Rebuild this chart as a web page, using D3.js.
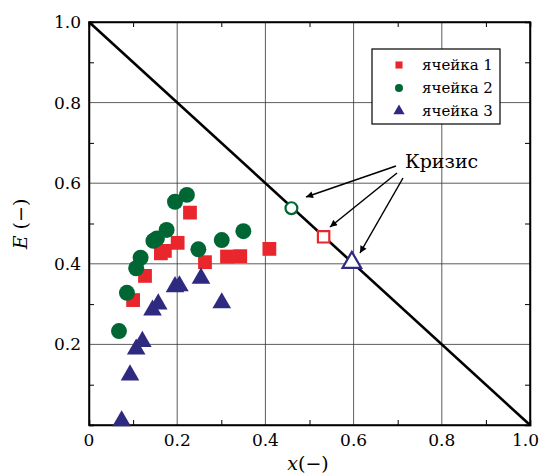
<!DOCTYPE html>
<html lang="ru">
<head>
<meta charset="UTF-8">
<title>E(x)</title>
<script src="https://cdn.jsdelivr.net/npm/d3@7/dist/d3.min.js"></script>
<style>
body{margin:0;background:#fff;}
</style>
</head>
<body>
<script>
// данные
var cell1 = [[0.10,0.31],[0.127,0.370],[0.163,0.426],[0.172,0.432],[0.201,0.452],[0.229,0.527],
             [0.263,0.404],[0.313,0.418],[0.343,0.419],[0.409,0.437]];
var cell2 = [[0.068,0.233],[0.086,0.328],[0.107,0.389],[0.117,0.415],[0.146,0.457],[0.154,0.463],
             [0.176,0.484],[0.195,0.554],[0.222,0.571],[0.248,0.436],[0.301,0.459],[0.350,0.481]];
var cell3 = [[0.074,0.010],[0.093,0.124],[0.107,0.188],[0.121,0.207],[0.144,0.285],[0.157,0.300],
             [0.195,0.343],[0.205,0.345],[0.254,0.364],[0.301,0.303]];
var crisis = [[0.532,0.467],[0.459,0.538],[0.596,0.403]]; // ячейка 1, 2, 3
var seriesNames = ["ячейка 1","ячейка 2","ячейка 3"];
var ticks = [0,0.2,0.4,0.6,0.8,1.0];
var tickLabels = ["0","0.2","0.4","0.6","0.8","1.0"];
var colors = ["#e8262c","#006633","#2e2a7f"];

var width = 540, height = 474;
var serif = "DejaVu Serif, serif";
var svg = d3.select("body").append("svg").attr("width",width).attr("height",height)
  .style("font-family",serif);

var x = d3.scaleLinear().domain([0,1]).range([89,530]);
var y = d3.scaleLinear().domain([0,1]).range([425,22]);

// сетка
var g = svg.append("g");
g.selectAll(".gx").data(ticks.slice(1,-1)).enter().append("line")
  .attr("x1",d=>x(d)).attr("x2",d=>x(d)).attr("y1",y(0)).attr("y2",y(1))
  .attr("stroke","#333").attr("stroke-width",0.8);
g.selectAll(".gy").data(ticks.slice(1,-1)).enter().append("line")
  .attr("y1",d=>y(d)).attr("y2",d=>y(d)).attr("x1",x(0)).attr("x2",x(1))
  .attr("stroke","#333").attr("stroke-width",0.8);

// оси со всех сторон, засечки внутрь
var minor = d3.range(0.1,1,0.2);
svg.append("g").attr("transform","translate(0,"+y(0)+")")
  .call(d3.axisBottom(x).tickValues(minor).tickSize(-5).tickFormat(""));
svg.append("g").attr("transform","translate(0,"+y(1)+")")
  .call(d3.axisTop(x).tickValues(minor).tickSize(-5).tickFormat(""));
svg.append("g").attr("transform","translate("+x(0)+",0)")
  .call(d3.axisLeft(y).tickValues(minor).tickSize(-5).tickFormat(""));
svg.append("g").attr("transform","translate("+x(1)+",0)")
  .call(d3.axisRight(y).tickValues(minor).tickSize(-5).tickFormat(""));
svg.selectAll(".domain").attr("stroke","#000").attr("stroke-width",1.5);
svg.selectAll(".tick line").attr("stroke","#000");

svg.append("rect").attr("x",x(0)).attr("y",y(1)).attr("width",x(1)-x(0)).attr("height",y(0)-y(1))
  .attr("fill","none").attr("stroke","#000").attr("stroke-width",1.5);

// подписи делений
svg.selectAll(".xl").data(ticks).enter().append("text")
  .attr("x",(d,i)=>i==ticks.length-1 ? 539 : x(d)).attr("y",446)
  .attr("text-anchor",(d,i)=>i==ticks.length-1 ? "end" : "middle")
  .attr("font-size",17).text((d,i)=>tickLabels[i]);
svg.selectAll(".yl").data(ticks.slice(1)).enter().append("text")
  .attr("x",81).attr("y",d=>y(d)+6).attr("text-anchor","end")
  .attr("font-size",17).text((d,i)=>tickLabels[i+1]);

// подписи осей
var xt = svg.append("text").attr("x",308).attr("y",470).attr("text-anchor","middle").attr("font-size",19);
xt.append("tspan").attr("font-style","italic").text("x");
xt.append("tspan").text("(−)");
var yt = svg.append("text").attr("transform","translate(27,224) rotate(-90)").attr("text-anchor","middle").attr("font-size",19);
yt.append("tspan").attr("font-style","italic").text("E");
yt.append("tspan").text(" (−)");

// линия E = 1 - x
svg.append("line").attr("x1",x(0)).attr("y1",y(1)).attr("x2",x(1)).attr("y2",y(0))
  .attr("stroke","#000").attr("stroke-width",2.6);

// точки
var shapes = [d3.symbolSquare,d3.symbolCircle,d3.symbolTriangle];
var sizes = [190,200,150];
[cell1,cell2,cell3].forEach(function(data,i){
  svg.selectAll(".s"+i).data(data).enter().append("path")
    .attr("transform",d=>"translate("+x(d[0])+","+y(d[1])+")")
    .attr("d",d3.symbol().type(shapes[i]).size(sizes[i]))
    .attr("fill",colors[i]);
});

// кризис — пустые маркеры
var hollowSizes = [130,110,150];
crisis.forEach(function(d,i){
  svg.append("path").attr("transform","translate("+x(d[0])+","+y(d[1])+")")
    .attr("d",d3.symbol().type(shapes[i]).size(hollowSizes[i]))
    .attr("fill","#fff").attr("stroke",colors[i]).attr("stroke-width",2.2);
});

// аннотация
svg.append("defs").append("marker").attr("id","arr").attr("viewBox","0 0 10 10")
  .attr("refX",10).attr("refY",5).attr("markerWidth",9).attr("markerHeight",7)
  .attr("markerUnits","userSpaceOnUse").attr("orient","auto")
  .append("path").attr("d","M0,0L10,5L0,10z").attr("fill","#000");
svg.append("text").attr("x",405).attr("y",168).attr("font-size",19).text("Кризис");
var arrowFrom = [[396,166],[397,173],[403,178]];
var arrowTo = [[306,197],[330,227],[360,253]];
arrowFrom.forEach(function(p,i){
  svg.append("line").attr("x1",p[0]).attr("y1",p[1]).attr("x2",arrowTo[i][0]).attr("y2",arrowTo[i][1])
    .attr("stroke","#000").attr("stroke-width",1.5).attr("marker-end","url(#arr)");
});

// легенда
var lg = svg.append("g");
lg.append("rect").attr("x",372).attr("y",49).attr("width",128).attr("height",75)
  .attr("fill","#fff").attr("stroke","#000").attr("stroke-width",1.2);
var legSizes = [50,50,55];
seriesNames.forEach(function(n,i){
  var ly = 65 + i*23;
  lg.append("path").attr("transform","translate(399,"+ly+")")
    .attr("d",d3.symbol().type(shapes[i]).size(legSizes[i])).attr("fill",colors[i]);
  lg.append("text").attr("x",422).attr("y",ly+5).attr("font-size",15).text(n);
});
</script>
</body>
</html>
